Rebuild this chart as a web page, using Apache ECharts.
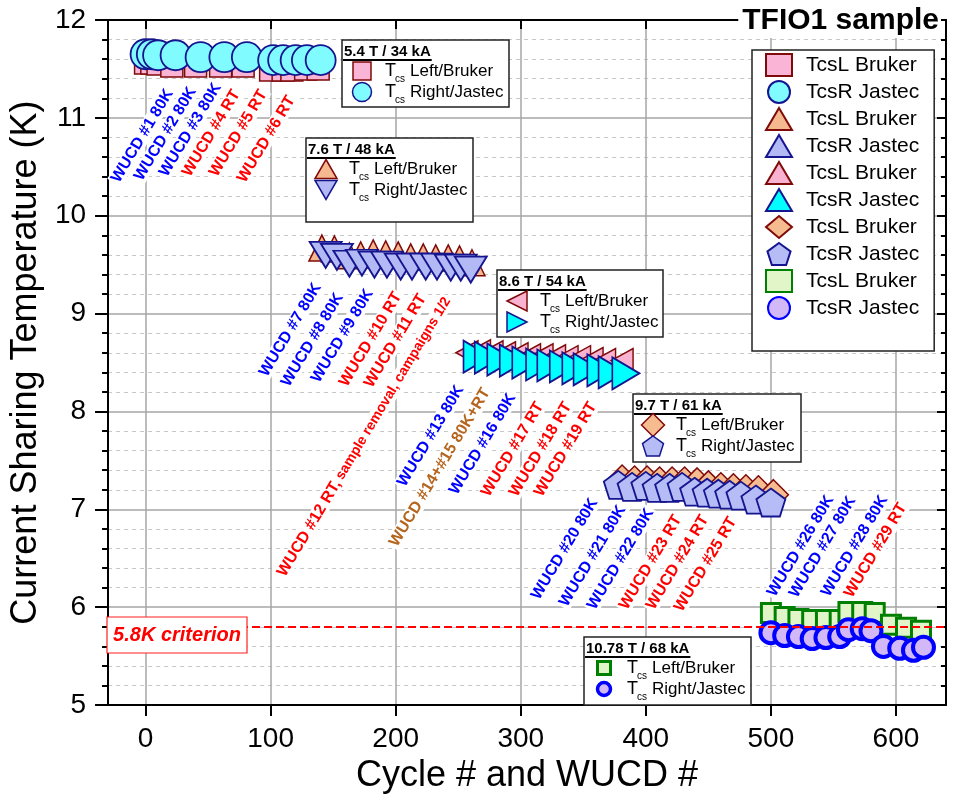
<!DOCTYPE html>
<html>
<head>
<meta charset="utf-8">
<script src="https://cdn.jsdelivr.net/npm/echarts@6/dist/echarts.min.js"></script>
<style>
  html, body { margin: 0; padding: 0; background: #fff; }
  #main { width: 955px; height: 799px; }
</style>
</head>
<body>
<div id="main"></div>
<script>
// ---------------- data ----------------
const cycleTicks = [0, 100, 200, 300, 400, 500, 600];
const criterionK = 5.8;

// 5.4 T / 34 kA
const cycleL34 = [0, 5, 10, 21, 40, 60, 78, 100, 110, 117, 128, 138];
const tcsL34   = [11.56, 11.56, 11.55, 11.53, 11.53, 11.53, 11.53, 11.49, 11.49, 11.49, 11.50, 11.50];
const cycleR34 = [0, 5, 10, 24, 44, 63, 81, 102, 110, 120, 129, 140];
const tcsR34   = [11.65, 11.65, 11.64, 11.64, 11.62, 11.62, 11.62, 11.59, 11.59, 11.59, 11.59, 11.59];

// 7.6 T / 48 kA
const cycleL48 = [141, 151, 163, 172, 182, 192, 202, 212, 222, 232, 242, 251, 261];
const tcsL48   = [9.67, 9.66, 9.59, 9.60, 9.62, 9.61, 9.60, 9.58, 9.58, 9.57, 9.57, 9.56, 9.52];
const cycleR48 = [144, 153, 163, 173, 183, 193, 204, 213, 224, 233, 244, 252, 260];
const tcsR48   = [9.60, 9.58, 9.51, 9.52, 9.50, 9.50, 9.48, 9.48, 9.48, 9.48, 9.47, 9.47, 9.45];

// 8.6 T / 54 kA
const cycleL54 = [257, 267, 277, 287, 297, 307, 317, 327, 337, 347, 357, 367, 381];
const tcsL54   = [8.60, 8.61, 8.60, 8.59, 8.58, 8.57, 8.57, 8.56, 8.55, 8.55, 8.53, 8.52, 8.52];
const cycleR54 = [265, 274, 284, 294, 304, 315, 324, 334, 344, 353, 364, 373, 384];
const tcsR54   = [8.56, 8.55, 8.53, 8.52, 8.50, 8.48, 8.47, 8.46, 8.44, 8.43, 8.42, 8.40, 8.39];

// 9.7 T / 61 kA
const cycleL61 = [381, 391, 401, 411, 421, 431, 441, 450, 460, 470, 480, 490, 502];
const tcsL61   = [7.30, 7.29, 7.29, 7.28, 7.28, 7.28, 7.27, 7.24, 7.22, 7.21, 7.20, 7.19, 7.15];
const cycleR61 = [378, 389, 400, 409, 419, 429, 439, 449, 458, 467, 476, 488, 500];
const tcsR61   = [7.25, 7.23, 7.24, 7.22, 7.22, 7.23, 7.18, 7.17, 7.16, 7.15, 7.14, 7.10, 7.07];

// 10.78 T / 68 kA
const cycleL68 = [500, 511, 522, 533, 544, 555, 562, 573, 583, 596, 608, 620];
const tcsL68   = [5.94, 5.90, 5.88, 5.87, 5.87, 5.87, 5.95, 5.95, 5.94, 5.82, 5.79, 5.76];
const cycleR68 = [500, 511, 522, 533, 544, 555, 562, 573, 580, 590, 603, 614, 622];
const tcsR68   = [5.74, 5.71, 5.70, 5.68, 5.69, 5.70, 5.77, 5.78, 5.76, 5.60, 5.58, 5.56, 5.59];

// field / current headers of the five campaigns
const fieldHeaders = ['5.4 T / 34 kA', '7.6 T / 48 kA', '8.6 T / 54 kA', '9.7 T / 61 kA', '10.78 T / 68 kA'];

// warm-up / cool-down annotations
const wucdTexts = [
  'WUCD #1 80K', 'WUCD #2 80K', 'WUCD #3 80K', 'WUCD #4 RT', 'WUCD #5 RT', 'WUCD #6 RT',
  'WUCD #7 80K', 'WUCD #8 80K', 'WUCD #9 80K', 'WUCD #10 RT', 'WUCD #11 RT',
  'WUCD #12 RT,|sample removal, campaigns 1/2',
  'WUCD #13 80K', 'WUCD #14+#15 80K+RT', 'WUCD #16 80K', 'WUCD #17 RT', 'WUCD #18 RT', 'WUCD #19 RT',
  'WUCD #20 80K', 'WUCD #21 80K', 'WUCD #22 80K', 'WUCD #23 RT', 'WUCD #24 RT', 'WUCD #25 RT',
  'WUCD #26 80K', 'WUCD #27 80K', 'WUCD #28 80K', 'WUCD #29 RT'
];

// ---------------- layout & style ----------------
const FONT = '"Liberation Sans", Arial, Helvetica, sans-serif';
const ROT = 59 * Math.PI / 180;

// lower-left corner of each rotated annotation (pixels)
const wucdAnchors = [
  [121, 187], [144, 185], [169, 181], [192, 181], [219, 181], [247, 187],
  [269, 381], [291, 391], [321, 387], [349, 391], [374, 392],
  [287, 581],
  [407, 491], [399, 551], [459, 499], [491, 501], [519, 501], [544, 501],
  [541, 604], [569, 611], [597, 614], [629, 614], [656, 614], [684, 616],
  [777, 601], [799, 602], [831, 601], [854, 602]
];

const DARKRED = '#7f0a0a';
const NAVY = '#15158f';
const PENTAGON = 'path://M50 0 L97.55 34.55 L79.39 90.45 L20.61 90.45 L2.45 34.55 Z';

const looks = {
  sqPink:   { symbol: 'rect', size: 22, rot: 0, fill: '#f9b4d6', stroke: DARKRED, lw: 1.5 },
  cirCyan:  { symbol: 'circle', size: 30, rot: 0, fill: '#80fbff', stroke: NAVY, lw: 1.8 },
  triUp:    { symbol: 'triangle', size: [26, 26], rot: 0, fill: '#f6b88e', stroke: DARKRED, lw: 1.5 },
  triDown:  { symbol: 'triangle', size: [32, 26], rot: 180, fill: '#b3b9f5', stroke: NAVY, lw: 1.8 },
  triLeft:  { symbol: 'triangle', size: [24, 22], rot: 90, fill: '#f9b3d0', stroke: DARKRED, lw: 1.5 },
  triRight: { symbol: 'triangle', size: [32, 27], rot: -90, fill: '#00ffff', stroke: NAVY, lw: 1.8 },
  diamond:  { symbol: 'diamond', size: [30, 30], rot: 0, fill: '#f6bc8f', stroke: DARKRED, lw: 1.5 },
  pentagon: { symbol: PENTAGON, size: [29, 28], rot: 0, fill: '#b6bcf6', stroke: NAVY, lw: 1.8 },
  sqGreen:  { symbol: 'rect', size: 19, rot: 0, fill: '#e1f5c9', stroke: '#008000', lw: 3 },
  cirBlue:  { symbol: 'circle', size: 21, rot: 0, fill: '#d3b8f7', stroke: '#0000ff', lw: 4 }
};

const seriesDefs = [
  ['TcsL Bruker#34', cycleL34, tcsL34, looks.sqPink],
  ['TcsR Jastec#34', cycleR34, tcsR34, looks.cirCyan],
  ['TcsL Bruker#48', cycleL48, tcsL48, looks.triUp],
  ['TcsR Jastec#48', cycleR48, tcsR48, looks.triDown],
  ['TcsL Bruker#54', cycleL54, tcsL54, looks.triLeft],
  ['TcsR Jastec#54', cycleR54, tcsR54, looks.triRight],
  ['TcsL Bruker#61', cycleL61, tcsL61, looks.diamond],
  ['TcsR Jastec#61', cycleR61, tcsR61, looks.pentagon],
  ['TcsL Bruker#68', cycleL68, tcsL68, looks.sqGreen],
  ['TcsR Jastec#68', cycleR68, tcsR68, looks.cirBlue]
];

const series = seriesDefs.map(([name, xs, ys, lk]) => ({
  type: 'scatter',
  name,
  xAxisIndex: 0,
  yAxisIndex: 0,
  z: 2,
  data: xs.map((x, i) => [x, ys[i]]),
  symbol: lk.symbol,
  symbolSize: lk.size,
  symbolRotate: lk.rot,
  itemStyle: { color: lk.fill, borderColor: lk.stroke, borderWidth: lk.lw, opacity: 1 },
  emphasis: { disabled: true },
  silent: true
}));

// 5.8 K criterion line
series[series.length - 1].markLine = {
  silent: true,
  z: 3,
  symbol: ['none', 'none'],
  label: { show: false },
  lineStyle: { color: '#ff0000', width: 2, type: [8, 4] },
  data: [{ yAxis: criterionK }]
};

// ---------------- graphic helpers ----------------
const measureCtx = document.createElement('canvas').getContext('2d');
function textWidth(str, font) { measureCtx.font = font; return measureCtx.measureText(str).width; }

const PENT_PTS = [[50, 0], [97.55, 34.55], [79.39, 90.45], [20.61, 90.45], [2.45, 34.55]]
  .map(([x, y]) => [(x - 50) / 95.1, (y - 45.2) / 90.45]);
const SHAPES = {
  up: [[0, -0.5], [0.5, 0.5], [-0.5, 0.5]],
  down: [[-0.5, -0.5], [0.5, -0.5], [0, 0.5]],
  left: [[-0.5, 0], [0.5, -0.5], [0.5, 0.5]],
  right: [[-0.5, -0.5], [0.5, 0], [-0.5, 0.5]],
  diamond: [[0, -0.5], [0.5, 0], [0, 0.5], [-0.5, 0]],
  pentagon: PENT_PTS
};

function marker(m, cx, cy) {
  const style = { fill: m.fill, stroke: m.stroke, lineWidth: m.lw };
  if (m.kind === 'rect') {
    return { type: 'rect', z: 8, shape: { x: cx - m.w / 2, y: cy - m.h / 2, width: m.w, height: m.h }, style };
  }
  if (m.kind === 'circle') {
    return { type: 'circle', z: 8, shape: { cx, cy, r: m.w / 2 }, style };
  }
  return {
    type: 'polygon', z: 8,
    shape: { points: SHAPES[m.kind].map(p => [cx + p[0] * m.w, cy + p[1] * m.h]) },
    style
  };
}

function fieldBox(bx, by, w, h, header, symA, symB) {
  const hy = by + 12;
  const hFont = 'bold 15px ' + FONT;
  const hw = textWidth(header, hFont);
  const out = [
    { type: 'rect', z: 7, shape: { x: bx, y: by, width: w, height: h },
      style: { fill: '#fff', stroke: '#222', lineWidth: 1.5 } },
    { type: 'text', z: 8, x: bx + 2, y: hy,
      style: { text: header, font: hFont, fill: '#000', align: 'left', verticalAlign: 'middle' } },
    { type: 'line', z: 8, shape: { x1: bx + 1, y1: hy + 8, x2: bx + 3 + hw, y2: hy + 8 },
      style: { stroke: '#000', lineWidth: 2 } }
  ];
  [['Left/Bruker', symA, by + 31], ['Right/Jastec', symB, by + 52]].forEach(([lbl, s, cy]) => {
    out.push(marker(s, bx + 20, cy));
    out.push({ type: 'text', z: 8, x: bx + 43, y: cy,
      style: { text: 'T', font: '18px ' + FONT, fill: '#000', verticalAlign: 'middle' } });
    out.push({ type: 'text', z: 8, x: bx + 53, y: cy + 8,
      style: { text: 'cs', font: '10px ' + FONT, fill: '#000', verticalAlign: 'middle' } });
    out.push({ type: 'text', z: 8, x: bx + 68, y: cy,
      style: { text: lbl, font: '17px ' + FONT, fill: '#000', verticalAlign: 'middle' } });
  });
  return out;
}

const graphics = [];

// campaign boxes
const boxLayout = [
  [342, 40, 167, 67],
  [306, 138, 167, 84],
  [497, 270, 166, 67],
  [633, 394, 168, 68],
  [584, 637, 167, 68]
];
const boxMarkers = [
  [{ kind: 'rect', w: 18, h: 18, fill: looks.sqPink.fill, stroke: DARKRED, lw: 1.5 },
   { kind: 'circle', w: 19, h: 19, fill: looks.cirCyan.fill, stroke: NAVY, lw: 1.5 }],
  [{ kind: 'up', w: 22, h: 19, fill: looks.triUp.fill, stroke: DARKRED, lw: 1.5 },
   { kind: 'down', w: 22, h: 19, fill: looks.triDown.fill, stroke: NAVY, lw: 1.5 }],
  [{ kind: 'left', w: 20, h: 20, fill: looks.triLeft.fill, stroke: DARKRED, lw: 1.5 },
   { kind: 'right', w: 20, h: 20, fill: looks.triRight.fill, stroke: NAVY, lw: 1.5 }],
  [{ kind: 'diamond', w: 23, h: 23, fill: looks.diamond.fill, stroke: DARKRED, lw: 1.5 },
   { kind: 'pentagon', w: 21, h: 20, fill: looks.pentagon.fill, stroke: NAVY, lw: 1.5 }],
  [{ kind: 'rect', w: 13, h: 13, fill: looks.sqGreen.fill, stroke: '#008000', lw: 3 },
   { kind: 'circle', w: 13, h: 13, fill: looks.cirBlue.fill, stroke: '#0000ff', lw: 3.5 }]
];
fieldHeaders.forEach((hdr, i) => {
  const [bx, by, w, h] = boxLayout[i];
  graphics.push(...fieldBox(bx, by, w, h, hdr, boxMarkers[i][0], boxMarkers[i][1]));
});

// WUCD annotations
wucdTexts.forEach((t, i) => {
  const [ax, ay] = wucdAnchors[i];
  const color = t.includes('+') ? '#b5651d' : (t.includes('80K') ? '#0000ff' : '#ff0000');
  let style;
  if (t.includes('|')) {
    const [a, b] = t.split('|');
    style = {
      text: '{a|' + a + '} {b|' + b + '}',
      rich: {
        a: { fill: color, font: 'bold 16px ' + FONT },
        b: { fill: color, font: 'bold 14px ' + FONT }
      },
      align: 'left', verticalAlign: 'bottom', backgroundColor: '#fff', padding: [0, 2]
    };
  } else {
    style = {
      text: t, fill: color, font: 'bold 16px ' + FONT,
      align: 'left', verticalAlign: 'bottom', backgroundColor: '#fff', padding: [0, 2]
    };
  }
  graphics.push({ type: 'text', z: 1, x: ax, y: ay, rotation: ROT, style });
});

// criterion tag
graphics.push({ type: 'rect', z: 9, shape: { x: 107, y: 617, width: 140, height: 36 },
  style: { fill: '#fff', stroke: '#ff2020', lineWidth: 1.2 } });
graphics.push({ type: 'text', z: 10, x: 177, y: 635,
  style: { text: criterionK.toFixed(1) + 'K criterion', font: 'italic bold 20px ' + FONT,
           fill: '#ff0000', align: 'center', verticalAlign: 'middle' } });

// sample title
graphics.push({ type: 'text', z: 10, x: 941, y: 21,
  style: { text: 'TFIO1 sample', font: 'bold 30px ' + FONT, fill: '#000',
           align: 'right', verticalAlign: 'middle', backgroundColor: '#fff', padding: [2, 2, 2, 4] } });

// ---------------- axes ----------------
const axisLineStyle = { color: '#000', width: 2 };
const xRange = { type: 'value', min: -30, max: 640 };
const yRange = { type: 'value', min: 5, max: 12, interval: 1 };

const option = {
  animation: false,
  backgroundColor: '#fff',
  grid: { left: 102, right: 9, top: 20, bottom: 89, containLabel: false },
  legend: {
    orient: 'vertical',
    left: 752, top: 50,
    padding: [3, 15, 31, 13],
    itemWidth: 26, itemHeight: 22, itemGap: 3,
    symbolKeepAspect: true,
    backgroundColor: '#fff', borderColor: '#222', borderWidth: 1.5, borderRadius: 0,
    symbolRotate: 'inherit',
    selectedMode: false,
    textStyle: { fontSize: 21, lineHeight: 23, color: '#000', fontFamily: FONT, padding: [0, 0, 0, 9] },
    formatter: n => n.split('#')[0],
    data: seriesDefs.map(d => d[0])
  },
  xAxis: [
    {
      ...xRange, position: 'bottom',
      name: 'Cycle # and WUCD #', nameLocation: 'middle', nameGap: 46,
      nameTextStyle: { fontSize: 36, fontFamily: FONT, color: '#000' },
      axisLine: { show: true, onZero: false, lineStyle: axisLineStyle },
      axisTick: { show: true, inside: false, length: 11, customValues: cycleTicks, lineStyle: axisLineStyle },
      axisLabel: { show: true, customValues: cycleTicks, margin: 20, fontSize: 28, color: '#000', fontFamily: FONT },
      splitLine: { show: true, lineStyle: { color: '#a6a6a6', width: 1.5 } },
      minorTick: { show: false }, minorSplitLine: { show: false }
    },
    {
      ...xRange, position: 'top',
      axisLine: { show: true, onZero: false, lineStyle: axisLineStyle },
      axisTick: { show: true, inside: true, length: 9, customValues: cycleTicks, lineStyle: axisLineStyle },
      axisLabel: { show: false }, splitLine: { show: false }
    }
  ],
  yAxis: [
    {
      ...yRange, position: 'left',
      name: 'Current Sharing Temperature (K)', nameLocation: 'middle', nameGap: 54,
      nameTextStyle: { fontSize: 36, fontFamily: FONT, color: '#000' },
      axisLine: { show: true, onZero: false, lineStyle: axisLineStyle },
      axisTick: { show: true, inside: false, length: 13, lineStyle: axisLineStyle },
      minorTick: { show: true, splitNumber: 5, length: 6, lineStyle: axisLineStyle },
      axisLabel: { show: true, margin: 22, fontSize: 28, color: '#000', fontFamily: FONT },
      splitLine: { show: true, lineStyle: { color: '#a6a6a6', width: 1.5 } },
      minorSplitLine: { show: true, lineStyle: { color: '#c8c8c8', width: 1, type: [4, 4] } }
    },
    {
      ...yRange, position: 'right',
      axisLine: { show: true, onZero: false, lineStyle: axisLineStyle },
      axisTick: { show: true, inside: true, length: 9, lineStyle: axisLineStyle },
      minorTick: { show: true, splitNumber: 5, length: 5, lineStyle: axisLineStyle },
      axisLabel: { show: false }, splitLine: { show: false }
    }
  ],
  graphic: { elements: graphics },
  series
};

const chart = echarts.init(document.getElementById('main'));
chart.setOption(option);
</script>
</body>
</html>
